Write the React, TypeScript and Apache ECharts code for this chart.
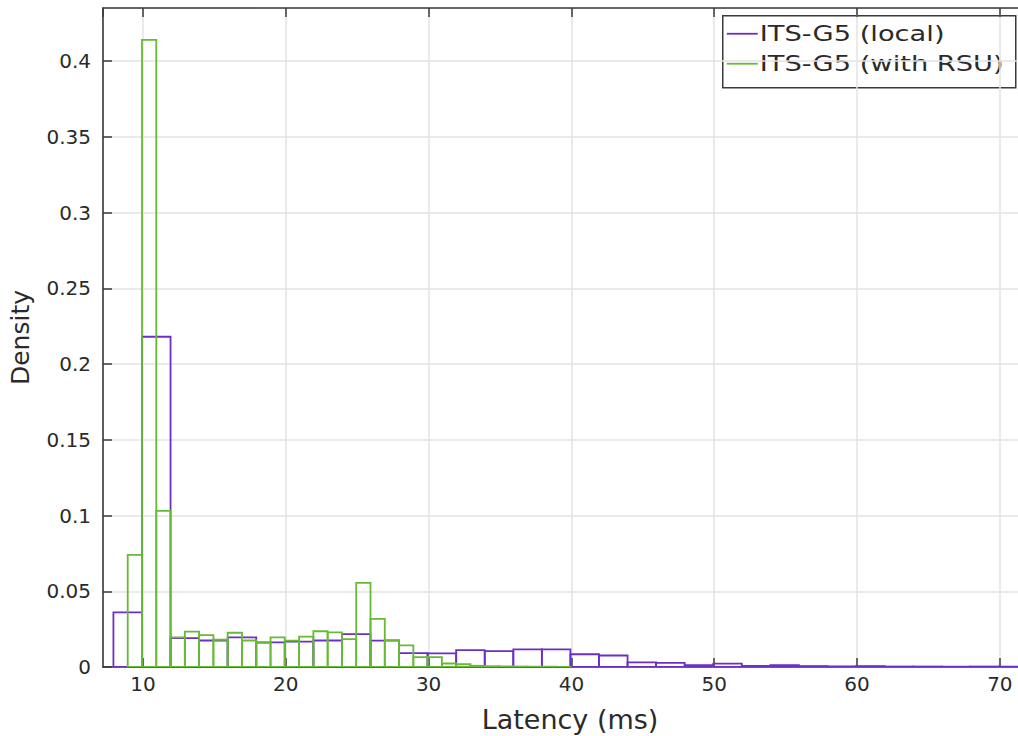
import React, { useEffect, useRef } from "react";
import * as echarts from "echarts";

const seriesNames = ["ITS-G5 (local)", "ITS-G5 (with RSU)"];
const seriesColors = ["#6b2fc6", "#66ba34"];

// Bin edges (ms) and densities of the local histogram (bin width 2 ms)
const localBinEdges = [
  7.93, 9.93, 11.93, 13.93, 15.93, 17.93, 19.93, 21.93, 23.93, 25.93, 27.93,
  29.93, 31.93, 33.93, 35.93, 37.93, 39.93, 41.93, 43.93, 45.93, 47.93, 49.93,
  51.93, 53.93, 55.93, 57.93, 59.93, 61.93, 63.93, 65.93, 67.93, 69.93, 71.93,
  73.93,
];
const localDensity = [
  0.036, 0.218, 0.019, 0.0175, 0.0195, 0.0163, 0.0168, 0.0175, 0.0217, 0.0174,
  0.0092, 0.009, 0.0112, 0.0105, 0.0117, 0.0117, 0.0084, 0.0076, 0.0031,
  0.0027, 0.0012, 0.0022, 0.0007, 0.0012, 0.0006, 0.0004, 0.0006, 0.0003,
  0.0003, 0.0002, 0.0003, 0.0002, 0.0002,
];

// Bin edges (ms) and densities of the RSU histogram (bin width 1 ms)
const rsuBinEdges = [
  8.93, 9.93, 10.93, 11.93, 12.93, 13.93, 14.93, 15.93, 16.93, 17.93, 18.93,
  19.93, 20.93, 21.93, 22.93, 23.93, 24.93, 25.93, 26.93, 27.93, 28.93, 29.93,
  30.93, 31.93, 32.93, 33.93, 34.93, 35.93, 36.93, 37.93, 38.93, 39.93,
];
const rsuDensity = [
  0.074, 0.414, 0.103, 0.0195, 0.0233, 0.021, 0.018, 0.0226, 0.0175, 0.016,
  0.0196, 0.0174, 0.02, 0.0236, 0.0228, 0.0184, 0.0555, 0.0318, 0.0178,
  0.0143, 0.0065, 0.0065, 0.0023, 0.0018, 0.0008, 0.0005, 0.0004, 0.0003,
  0.0002, 0.0002, 0.0001,
];

const xAxisTitle = "Latency (ms)";
const yAxisTitle = "Density";

const FONT = "DejaVu Sans";
const AXIS_COLOR = "#3a3a3a";
const GRID_COLOR = "#e3e3e3";
const TEXT_COLOR = "#2a2a2a";

function toBins(edges: number[], values: number[]) {
  return values.map((v, i) => [edges[i], edges[i + 1], v]);
}

function makeHistSeries(name: string, color: string, data: number[][]) {
  return {
    type: "custom",
    name,
    xAxisIndex: 0,
    yAxisIndex: 0,
    clip: true,
    encode: { x: [0, 1], y: 2 },
    data,
    renderItem: (_params: any, api: any) => {
      const x0 = api.value(0);
      const x1 = api.value(1);
      const v = api.value(2);
      const p0 = api.coord([x0, v]);
      const p1 = api.coord([x1, 0]);
      return {
        type: "rect",
        shape: { x: p0[0], y: p0[1], width: p1[0] - p0[0], height: p1[1] - p0[1] },
        style: { fill: "none", stroke: color, lineWidth: 1.8 },
      };
    },
  };
}

export default function App() {
  const ref = useRef<HTMLDivElement>(null);

  useEffect(() => {
    if (!ref.current) return;
    const chart = echarts.init(ref.current, undefined, { renderer: "svg" });

    const xMin = 7.2;
    const xMax = 72.6;
    const yMin = 0;
    const yMax = 0.435;

    const tickStyle = {
      show: true,
      inside: true,
      length: 9,
      lineStyle: { color: AXIS_COLOR, width: 1.5 },
    };
    const lineStyle = { show: true, onZero: false, lineStyle: { color: AXIS_COLOR, width: 1.6 } };

    const legendX = 722;
    const legendY = 15;
    const legendW = 293;
    const legendH = 72;

    chart.setOption({
      animation: false,
      backgroundColor: "#ffffff",
      grid: {
        left: 103,
        top: 8,
        width: 934,
        height: 659,
        containLabel: false,
        outerBoundsMode: "none",
      },
      xAxis: [
        {
          type: "value",
          position: "bottom",
          min: xMin,
          max: xMax,
          axisLine: lineStyle,
          axisTick: tickStyle,
          axisLabel: {
            showMinLabel: false,
            showMaxLabel: false,
            fontSize: 20,
            fontFamily: FONT,
            color: TEXT_COLOR,
            margin: 7,
          },
          splitLine: { show: true, lineStyle: { color: GRID_COLOR, width: 1.5 } },
          name: xAxisTitle,
          nameLocation: "middle",
          nameGap: 39,
          nameTextStyle: { fontSize: 27, fontFamily: FONT, color: TEXT_COLOR },
        },
        {
          type: "value",
          position: "top",
          min: xMin,
          max: xMax,
          axisLine: lineStyle,
          axisTick: tickStyle,
          axisLabel: { show: false },
          splitLine: { show: false },
        },
      ],
      yAxis: [
        {
          type: "value",
          position: "left",
          min: yMin,
          max: yMax,
          interval: 0.05,
          axisLine: lineStyle,
          axisTick: tickStyle,
          axisLabel: {
            showMaxLabel: false,
            fontSize: 20,
            fontFamily: FONT,
            color: TEXT_COLOR,
            margin: 12,
          },
          splitLine: { show: true, lineStyle: { color: GRID_COLOR, width: 1.5 } },
          name: yAxisTitle,
          nameLocation: "middle",
          nameGap: 70,
          nameTextStyle: { fontSize: 25, fontFamily: FONT, color: TEXT_COLOR },
        },
        {
          type: "value",
          position: "right",
          min: yMin,
          max: yMax,
          interval: 0.05,
          axisLine: lineStyle,
          axisTick: tickStyle,
          axisLabel: { show: false },
          splitLine: { show: false },
        },
      ],
      series: [
        makeHistSeries(seriesNames[0], seriesColors[0], toBins(localBinEdges, localDensity)),
        makeHistSeries(seriesNames[1], seriesColors[1], toBins(rsuBinEdges, rsuDensity)),
      ],
      graphic: [
        {
          type: "group",
          left: legendX,
          top: legendY,
          children: [
            {
              type: "rect",
              shape: { x: 0, y: 0, width: legendW, height: legendH },
              style: { fill: "#ffffff", stroke: AXIS_COLOR, lineWidth: 1.5 },
            },
            ...seriesNames.flatMap((name, i) => [
              {
                type: "line",
                shape: { x1: 4, y1: 18 + i * 30, x2: 35, y2: 18 + i * 30 },
                style: { stroke: seriesColors[i], lineWidth: 1.8 },
              },
              {
                type: "text",
                x: 37,
                y: 18 + i * 30,
                scaleX: 1.24,
                style: {
                  text: name,
                  x: 0,
                  y: 0,
                  fontSize: 22,
                  fontFamily: FONT,
                  fill: TEXT_COLOR,
                  verticalAlign: "middle",
                  align: "left",
                },
              },
            ]),
          ],
        },
      ],
    });

    return () => {
      chart.dispose();
    };
  }, []);

  return (
    <div
      ref={ref}
      style={{ position: "fixed", left: 0, top: 0, width: 1018, height: 736, background: "#fff" }}
    />
  );
}
